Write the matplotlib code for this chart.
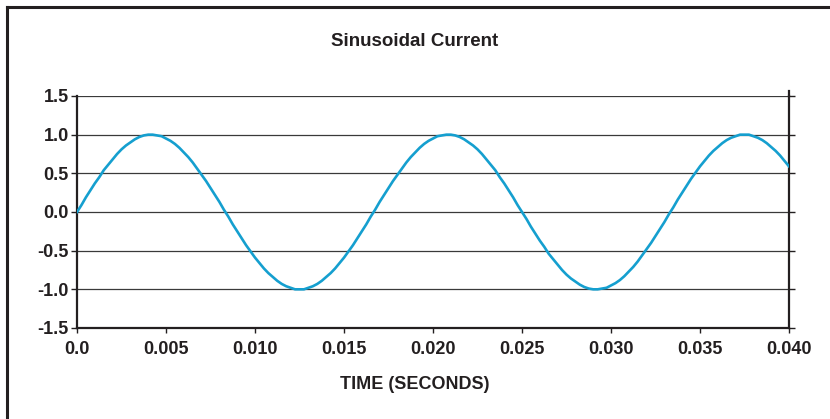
"""Sinusoidal current chart."""
import numpy as np
import matplotlib
matplotlib.use("Agg")
import matplotlib.pyplot as plt
from matplotlib.lines import Line2D

# sample times (s), every 0.25 ms from 0 to 40 ms
time_s = np.linspace(0.0, 0.040, 161)

# current at each sample time
current = [
    0.00, 0.09, 0.19, 0.28, 0.37, 0.45, 0.54, 0.61, 0.68, 0.75,
    0.81, 0.86, 0.90, 0.94, 0.97, 0.99, 1.00, 1.00, 0.99, 0.98,
    0.95, 0.92, 0.88, 0.83, 0.77, 0.71, 0.64, 0.56, 0.48, 0.40,
    0.31, 0.22, 0.13, 0.03, -0.06, -0.16, -0.25, -0.34, -0.43, -0.51,
    -0.59, -0.66, -0.73, -0.79, -0.84, -0.89, -0.93, -0.96, -0.98, -1.00,
    -1.00, -1.00, -0.98, -0.96, -0.93, -0.89, -0.84, -0.79, -0.73, -0.66,
    -0.59, -0.51, -0.43, -0.34, -0.25, -0.16, -0.06, 0.03, 0.13, 0.22,
    0.31, 0.40, 0.48, 0.56, 0.64, 0.71, 0.77, 0.83, 0.88, 0.92,
    0.95, 0.98, 0.99, 1.00, 1.00, 0.99, 0.97, 0.94, 0.90, 0.86,
    0.81, 0.75, 0.68, 0.61, 0.54, 0.45, 0.37, 0.28, 0.19, 0.09,
    0.00, -0.09, -0.19, -0.28, -0.37, -0.45, -0.54, -0.61, -0.68, -0.75,
    -0.81, -0.86, -0.90, -0.94, -0.97, -0.99, -1.00, -1.00, -0.99, -0.98,
    -0.95, -0.92, -0.88, -0.83, -0.77, -0.71, -0.64, -0.56, -0.48, -0.40,
    -0.31, -0.22, -0.13, -0.03, 0.06, 0.16, 0.25, 0.34, 0.43, 0.51,
    0.59, 0.66, 0.73, 0.79, 0.84, 0.89, 0.93, 0.96, 0.98, 1.00,
    1.00, 1.00, 0.98, 0.96, 0.93, 0.89, 0.84, 0.79, 0.73, 0.66,
    0.59,
]

x_ticks = [0.0, 0.005, 0.010, 0.015, 0.020, 0.025, 0.030, 0.035, 0.040]
x_labels = ["0.0", "0.005", "0.010", "0.015", "0.020", "0.025", "0.030", "0.035", "0.040"]
y_ticks = [-1.5, -1.0, -0.5, 0.0, 0.5, 1.0, 1.5]
y_labels = ["-1.5", "-1.0", "-0.5", "0.0", "0.5", "1.0", "1.5"]

plt.rcParams['font.family'] = ['Liberation Sans', 'DejaVu Sans']
DARK = '#231f20'

fig = plt.figure(figsize=(8.30, 4.19), dpi=100)
ax = fig.add_axes([0.0928, 0.2172, 0.8578, 0.5537])

for y in y_ticks:
    ax.axhline(y, color='#3a3a3a', linewidth=0.9, zorder=1)

ax.plot(time_s, current, color='#159fcf', linewidth=1.9, zorder=3,
        solid_joinstyle='round')

ax.set_xlim(0.0, 0.040)
ax.set_ylim(-1.5, 1.5)
ax.set_xticks(x_ticks)
ax.set_xticklabels(x_labels, fontsize=13, fontweight='bold', color=DARK)
ax.set_yticks(y_ticks)
ax.set_yticklabels(y_labels, fontsize=13, fontweight='bold', color=DARK)

ax.spines['top'].set_visible(False)
for side in ('left', 'right', 'bottom'):
    ax.spines[side].set_linewidth(1.6)
    ax.spines[side].set_color(DARK)

ax.tick_params(axis='x', direction='out', length=3.5, width=1.0, color=DARK, pad=6)
ax.tick_params(axis='y', direction='out', length=4, width=1.0, color=DARK, pad=2,
               right=True, labelright=False)

# right spine pokes a little above the top gridline
ax.plot([1, 1], [1.0, 1.02], transform=ax.transAxes, color=DARK,
        linewidth=1.6, clip_on=False)

fig.text(0.5, 0.90, 'Sinusoidal Current', ha='center', va='center',
         fontsize=13.5, fontweight='bold', color=DARK)
fig.text(0.5, 0.0835, 'TIME (SECONDS)', ha='center', va='center',
         fontsize=13, fontweight='bold', color=DARK)

# outer frame: top and left border only
fig.add_artist(Line2D([7 / 830, 1.0], [1 - 7 / 419, 1 - 7 / 419],
                      transform=fig.transFigure, color=DARK, linewidth=2.2))
fig.add_artist(Line2D([7 / 830, 7 / 830], [0.0, 1 - 7 / 419],
                      transform=fig.transFigure, color=DARK, linewidth=2.2))

fig.savefig('out.png', dpi=100)
